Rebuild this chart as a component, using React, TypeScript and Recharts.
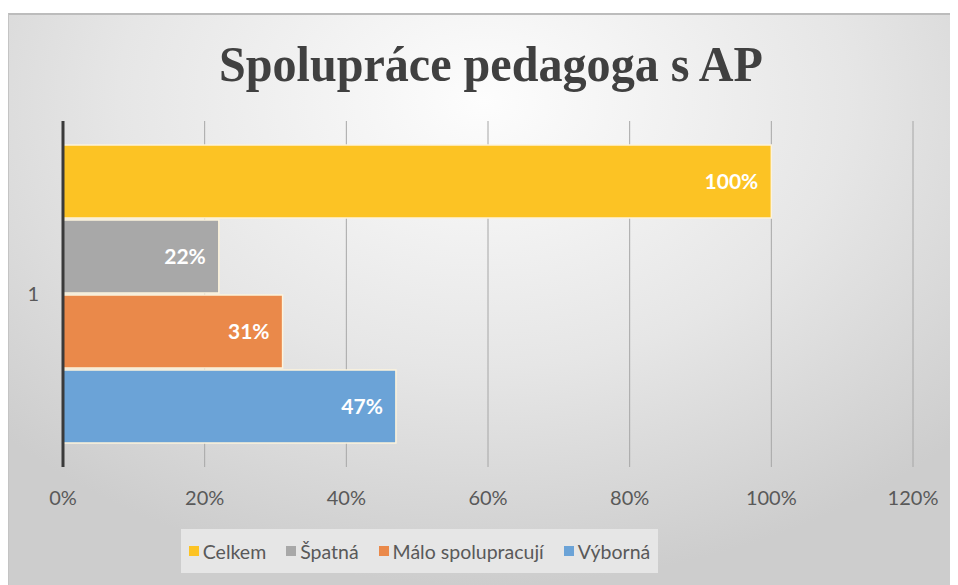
import { BarChart, Bar, XAxis, YAxis, CartesianGrid, LabelList } from "recharts";

const categories = ["1"];
const celkem = [1.0];
const spatna = [0.22];
const maloSpolupracuji = [0.31];
const vyborna = [0.47];
const xTicks = [0, 0.2, 0.4, 0.6, 0.8, 1.0, 1.2];

const series = [
  { key: "Celkem", values: celkem, color: "#FCC324" },
  { key: "Špatná", values: spatna, color: "#A8A8A8" },
  { key: "Málo spolupracují", values: maloSpolupracuji, color: "#EA894A" },
  { key: "Výborná", values: vyborna, color: "#6BA3D7" },
];

const data = categories.map((name, i) => {
  const row: Record<string, string | number> = { name };
  series.forEach((s) => (row[s.key] = s.values[i]));
  return row;
});

const pct = (v: number) => `${Math.round(v * 100)}%`;
const font = "Lato, 'Open Sans', sans-serif";

const LegendBox = () => (
  <div
    style={{
      position: "absolute",
      left: 172,
      top: 514,
      display: "flex",
      alignItems: "center",
      justifyContent: "center",
      gap: 20,
      width: 477,
      height: 44,
      background: "#e6e6e6",
      fontFamily: font,
      fontSize: 19.5,
      color: "#595959",
    }}
  >
    {series.map((s) => (
      <span key={s.key} style={{ display: "flex", alignItems: "center" }}>
        <span style={{ width: 10, height: 10, background: s.color, marginRight: 4, display: "inline-block" }} />
        {s.key}
      </span>
    ))}
  </div>
);

const App = () => {
  return (
    <div
      style={{
        position: "relative",
        marginTop: 5,
        width: 950,
        height: 572,
        boxSizing: "border-box",
        borderTop: "2px solid #bcbcbc",
        borderLeft: "1px solid #c4c4c4",
        background: "radial-gradient(ellipse 70% 85% at 50% 15%, #fdfdfd 0%, #e6e6e6 55%, #cdcdcd 100%)",
      }}
    >
      <svg width={950} height={110} style={{ position: "absolute", left: 0, top: 0 }}>
        <text
          x={482}
          y={66}
          textAnchor="middle"
          fontFamily="'Liberation Serif', 'Times New Roman', serif"
          fontWeight="bold"
          fontSize={50}
          fill="#404040"
          textLength={544}
          lengthAdjust="spacingAndGlyphs"
        >
          Spolupráce pedagoga s AP
        </text>
      </svg>
      <BarChart
        width={950}
        height={570}
        data={data}
        layout="vertical"
        margin={{ top: 106, right: 45, bottom: 88, left: 0 }}
        barCategoryGap={24}
        barGap={2}
        style={{ position: "absolute", left: -1, top: 0 }}
      >
        <CartesianGrid horizontal={false} vertical stroke="#a6a6a6" strokeWidth={1} />
        <XAxis
          type="number"
          domain={[0, 1.2]}
          ticks={xTicks}
          tickFormatter={pct}
          axisLine={false}
          tickLine={false}
          tickSize={0}
          tickMargin={24}
          height={30}
          tick={{ fill: "#595959", fontSize: 20, fontFamily: font }}
        />
        <YAxis
          type="category"
          dataKey="name"
          width={55}
          axisLine={{ stroke: "#3a3a3a", strokeWidth: 3 }}
          tickLine={false}
          tickSize={0}
          tickMargin={24}
          tick={{ fill: "#595959", fontSize: 20, fontFamily: font }}
        />
        {series.map((s) => (
          <Bar
            key={s.key}
            dataKey={s.key}
            fill={s.color}
            stroke="#fdf3dc"
            strokeWidth={1.5}
            isAnimationActive={false}
          >
            <LabelList
              dataKey={s.key}
              position="insideRight"
              offset={13}
              formatter={(v: number) => pct(v)}
              fill="#ffffff"
              fontSize={21}
              fontWeight="bold"
              fontFamily={font}
            />
          </Bar>
        ))}
      </BarChart>
      <LegendBox />
    </div>
  );
};

export default App;
